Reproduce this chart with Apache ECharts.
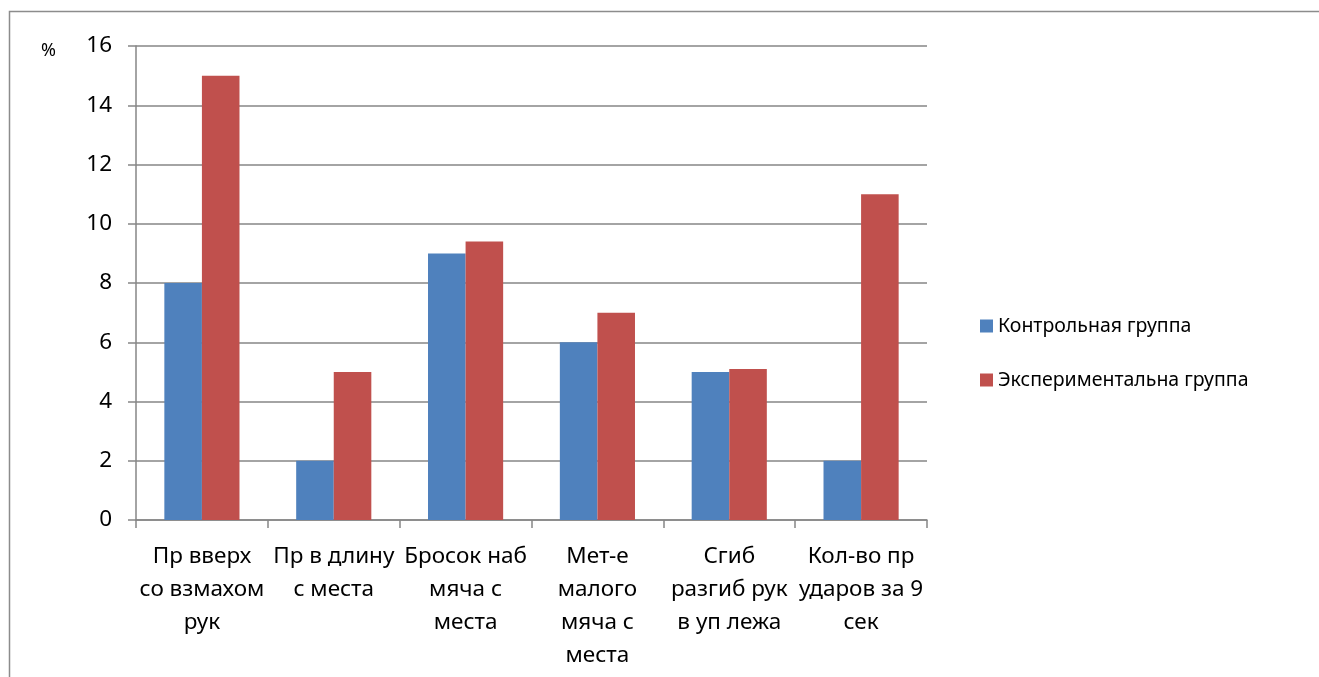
<!DOCTYPE html>
<html>
<head>
<meta charset="utf-8">
<script src="https://cdn.jsdelivr.net/npm/echarts@6/dist/echarts.min.js"></script>
<style>
html,body{margin:0;padding:0;background:#fff;}
#main{width:1319px;height:677px;}
</style>
</head>
<body>
<div id="main"></div>
<script>
const categories = [
  "Пр вверх\nсо взмахом\nрук",
  "Пр в длину\nс места",
  "Бросок наб\nмяча с\nместа",
  "Мет-е\nмалого\nмяча с\nместа",
  "Сгиб\nразгиб рук\nв уп лежа",
  "Кол-во пр\nударов за 9\nсек"
];
const seriesNames = ["Контрольная группа", "Экспериментальна группа"];
const controlValues = [8, 2, 9, 6, 5, 2];
const experimentalValues = [15, 5, 9.4, 7, 5.1, 11];
const yTicks = { min: 0, max: 16, interval: 2 };

const FONT = "Noto Sans";
const chart = echarts.init(document.getElementById('main'), null, {renderer: 'canvas'});
chart.setOption({
  animation: false,
  backgroundColor: '#fff',
  textStyle: { fontFamily: FONT },
  color: ['#4f81bd', '#c0504d'],
  graphic: [{
    type: 'rect',
    shape: { x: 9.5, y: 11.5, width: 2000, height: 2000 },
    style: { fill: 'none', stroke: '#8c8c8c', lineWidth: 1.5 },
    silent: true
  }, {
    type: 'text',
    left: 41, top: 42,
    style: { text: '%', fontSize: 18, fill: '#000', fontFamily: FONT },
    silent: true
  }],
  legend: {
    orient: 'vertical',
    left: 975, top: 311,
    itemWidth: 13, itemHeight: 13,
    itemGap: 34,
    icon: 'rect',
    textStyle: { fontSize: 19.5, color: '#000', fontFamily: FONT },
    data: seriesNames
  },
  grid: { left: 136, right: 392, top: 46, bottom: 157 },
  xAxis: {
    type: 'category',
    data: categories,
    axisLine: { lineStyle: { color: '#868686', width: 1.5 } },
    axisTick: { show: true, length: 8, lineStyle: { color: '#868686', width: 1.5 } },
    axisLabel: { fontSize: 22.5, color: '#000', lineHeight: 33, margin: 20, interval: 0, fontFamily: FONT }
  },
  yAxis: {
    type: 'value',
    min: yTicks.min, max: yTicks.max, interval: yTicks.interval,
    axisLine: { show: true, lineStyle: { color: '#868686', width: 1.5 } },
    axisTick: { show: true, length: 8, lineStyle: { color: '#868686', width: 1.5 } },
    splitLine: { lineStyle: { color: '#868686', width: 1.5 } },
    axisLabel: { fontSize: 22.5, color: '#000', margin: 24, fontFamily: FONT }
  },
  series: [
    { name: seriesNames[0], type: 'bar', data: controlValues, barGap: '0%', barCategoryGap: '43%' },
    { name: seriesNames[1], type: 'bar', data: experimentalValues, barGap: '0%', barCategoryGap: '43%' }
  ]
});
</script>
</body>
</html>
